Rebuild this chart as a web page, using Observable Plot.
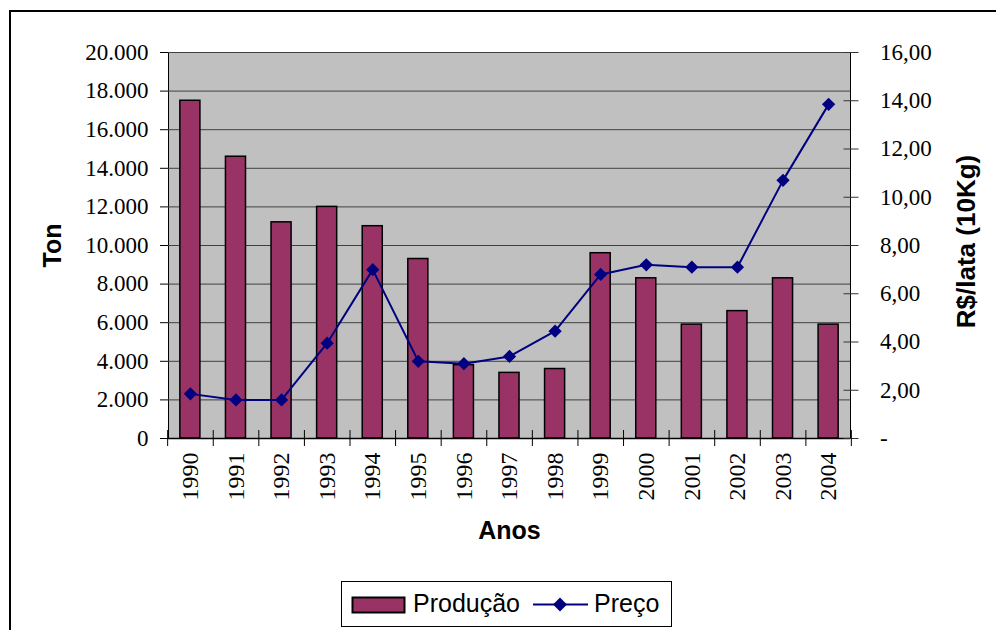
<!DOCTYPE html>
<html>
<head>
<meta charset="utf-8">
<script src="https://cdn.jsdelivr.net/npm/d3@7"></script>
<script src="https://cdn.jsdelivr.net/npm/@observablehq/plot@0.6"></script>
<style>
  html, body { margin: 0; padding: 0; background: #fff; }
  #wrap { position: relative; width: 996px; height: 630px; overflow: hidden; }
  #border { position: absolute; left: 9px; top: 10px; width: 1000px; height: 700px; border: 2px solid #000; box-sizing: border-box; }
  #chart { position: absolute; left: 0; top: 0; }
  #chart svg { font-family: "Liberation Serif", "Times New Roman", serif !important; }
  #legend { position: absolute; left: 341px; top: 581px; width: 331px; height: 46px; border: 1px solid #000; box-sizing: border-box; background: #fff;
    font-family: "Liberation Sans", Arial, sans-serif; font-size: 25px; }
  #legend svg { position: absolute; left: 0; top: 0; }
  #legend span { position: absolute; top: 6px; line-height: 30px; }
</style>
</head>
<body>
<div id="wrap">
  <div id="border"></div>
  <div id="chart"></div>
  <div id="legend"></div>
</div>
<script>
const years = ["1990","1991","1992","1993","1994","1995","1996","1997","1998","1999","2000","2001","2002","2003","2004"];
const producao = [17500, 14600, 11200, 12000, 11000, 9300, 3800, 3400, 3600, 9600, 8300, 5900, 6600, 8300, 5900];
const preco = [1.85, 1.6, 1.6, 3.95, 7.0, 3.2, 3.1, 3.4, 4.45, 6.8, 7.2, 7.1, 7.1, 10.7, 13.85];
const leftTicks = [0, 2000, 4000, 6000, 8000, 10000, 12000, 14000, 16000, 18000, 20000];
const rightTicks = [0, 2, 4, 6, 8, 10, 12, 14, 16];
const leftMax = 20000, rightMax = 16;
const seriesNames = ["Produção", "Preço"];
const titles = {y: "Ton", x: "Anos", y2: "R$/lata (10Kg)"};

const barColor = "#993366", lineColor = "#000080";
const data = years.map((y, i) => ({year: y, prod: producao[i], price: preco[i]}));
const k = leftMax / rightMax; // map right axis into left-axis units

const locale = d3.formatLocale({decimal: ",", thousands: ".", grouping: [3], currency: ["R$", ""]});
const fmtLeft = locale.format(",");
const fmtRight = locale.format(",.2f");

const W = 996, H = 630, mL = 168, mR = 146, mT = 52, mB = 192;
const step = (W - mL - mR) / years.length;
const serif = "Liberation Serif";
const sans = "Liberation Sans";

const diamond = {
  draw(ctx, size) {
    const h = Math.sqrt(size / 2);
    ctx.moveTo(0, -h); ctx.lineTo(h, 0); ctx.lineTo(0, h); ctx.lineTo(-h, 0); ctx.closePath();
  }
};

const chart = Plot.plot({
  width: W, height: H,
  marginLeft: mL, marginRight: mR, marginTop: mT, marginBottom: mB,
  style: {fontSize: "23px", color: "#000", background: "transparent"},
  x: {domain: years, paddingInner: 0.56, paddingOuter: 0.26, round: false, axis: null},
  y: {domain: [0, leftMax], axis: null},
  marks: [
    Plot.frame({fill: "#c0c0c0", stroke: "#000", strokeWidth: 1}),
    Plot.gridY(leftTicks, {stroke: "#404040", strokeOpacity: 1, strokeWidth: 1}),
    Plot.barY(data, {x: "year", y: "prod", fill: barColor, stroke: "#000", strokeWidth: 1.5}),
    Plot.ruleY([0], {stroke: "#000", strokeWidth: 1.5}),
    Plot.lineY(data, {x: "year", y: d => d.price * k, stroke: lineColor, strokeWidth: 2}),
    Plot.dot(data, {x: "year", y: d => d.price * k, symbol: diamond, r: 5.3, fill: lineColor, stroke: "none"}),
    // left axis
    Plot.axisY({anchor: "left", ticks: leftTicks, tickSize: 8, tickPadding: 12, tickFormat: fmtLeft, label: null, fontSize: 23, fontFamily: serif}),
    // right axis (ticks cross the axis line)
    Plot.axisY({anchor: "right", ticks: rightTicks.map(v => v * k), tickSize: 15, dx: -7.5, tickPadding: 22,
      tickFormat: v => v === 0 ? "-" : fmtRight(v / k), textAnchor: "start", label: null, fontSize: 23, fontFamily: serif, stroke: "#333"}),
    // x boundary ticks
    Plot.axisX({ticks: years, tickSize: 16, dy: -8, dx: -step / 2, tickFormat: () => "", label: null}),
    Plot.axisX({ticks: [years[years.length - 1]], tickSize: 16, dy: -8, dx: step / 2, tickFormat: () => "", label: null}),
    // x labels
    Plot.axisX({ticks: years, tickSize: 0, tickPadding: 14, tickRotate: -90, label: null, fontSize: 24, fontFamily: serif}),
    // axis titles
    Plot.text([titles.y], {frameAnchor: "left", textAnchor: "middle", dx: -116, rotate: -90, fontFamily: sans, fontWeight: "bold", fontSize: 25, text: d => d}),
    Plot.text([titles.x], {frameAnchor: "bottom", textAnchor: "middle", dy: 100, fontFamily: sans, fontWeight: "bold", fontSize: 25, text: d => d}),
    Plot.text([titles.y2], {frameAnchor: "right", textAnchor: "middle", dx: 116, dy: -4, rotate: -90, fontFamily: sans, fontWeight: "bold", fontSize: 26, text: d => d})
  ]
});
document.getElementById("chart").appendChild(chart);

// legend
const lg = document.getElementById("legend");
lg.innerHTML = `
<svg width="331" height="46">
  <rect x="10.5" y="15.5" width="52" height="15" fill="${barColor}" stroke="#000" stroke-width="2"/>
  <line x1="191" y1="22.5" x2="246" y2="22.5" stroke="${lineColor}" stroke-width="2"/>
  <path d="M218,15.5 L225,22.5 L218,29.5 L211,22.5 Z" fill="${lineColor}"/>
</svg>
<span style="left:71px">${seriesNames[0]}</span>
<span style="left:252px">${seriesNames[1]}</span>`;
</script>
</body>
</html>
